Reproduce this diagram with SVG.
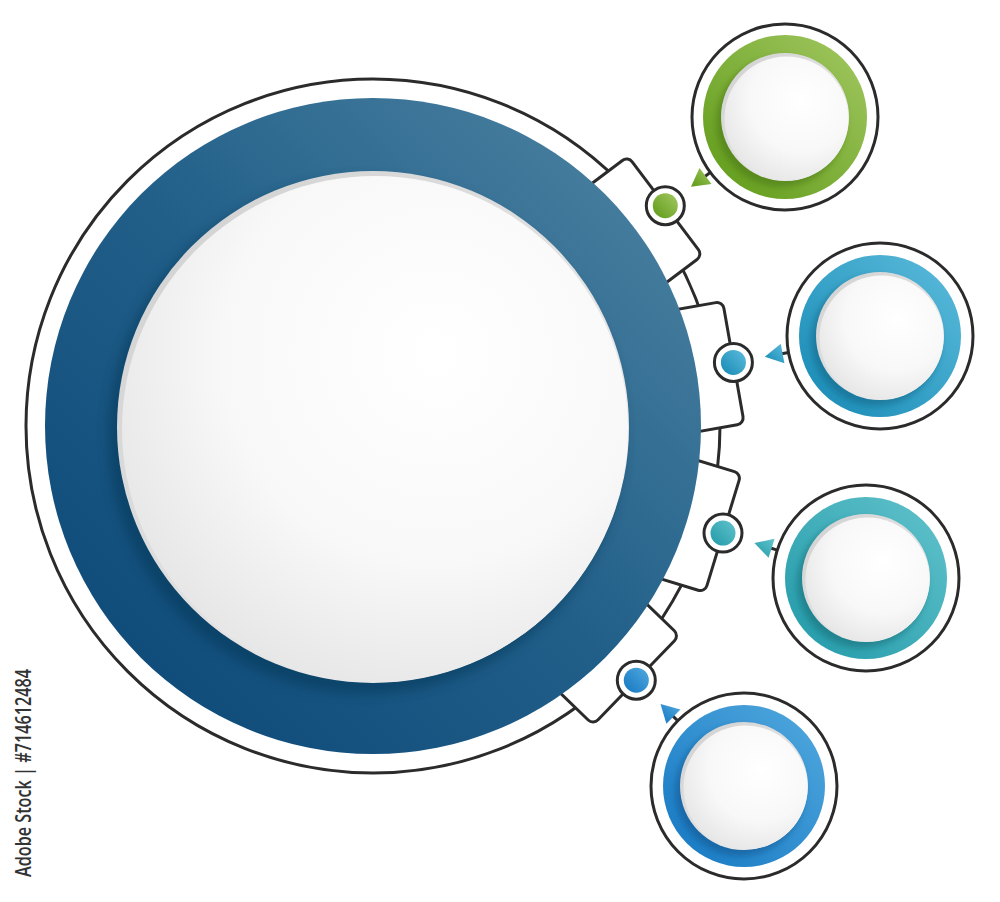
<svg xmlns="http://www.w3.org/2000/svg" width="1000" height="902" viewBox="0 0 1000 902">
<defs>
<linearGradient id="gBig" x1="0" y1="1" x2="1" y2="0"><stop offset="0" stop-color="#0a4575"/><stop offset="0.5" stop-color="#215f89"/><stop offset="1" stop-color="#5287a4"/></linearGradient>
<linearGradient id="gGreen" x1="0" y1="1" x2="1" y2="0"><stop offset="0" stop-color="#5e9a17"/><stop offset="1" stop-color="#a3c862"/></linearGradient>
<linearGradient id="gCyan" x1="0" y1="1" x2="1" y2="0"><stop offset="0" stop-color="#1689b4"/><stop offset="1" stop-color="#5cbcdc"/></linearGradient>
<linearGradient id="gTeal" x1="0" y1="1" x2="1" y2="0"><stop offset="0" stop-color="#2199a8"/><stop offset="1" stop-color="#62c3cc"/></linearGradient>
<linearGradient id="gBlue" x1="0" y1="1" x2="1" y2="0"><stop offset="0" stop-color="#1477c2"/><stop offset="1" stop-color="#52a9de"/></linearGradient>
<radialGradient id="gWhite" cx="0.62" cy="0.35" r="0.7"><stop offset="0" stop-color="#ffffff"/><stop offset="0.6" stop-color="#f8f8f8"/><stop offset="1" stop-color="#e6e6e6"/></radialGradient>
<linearGradient id="gRim" x1="0" y1="0" x2="1" y2="1"><stop offset="0" stop-color="#cfcfcf"/><stop offset="1" stop-color="#f2f2f2"/></linearGradient>
<filter id="shadow" x="-20%" y="-20%" width="140%" height="140%"><feGaussianBlur stdDeviation="6"/></filter>
<filter id="shadowS" x="-20%" y="-20%" width="140%" height="140%"><feGaussianBlur stdDeviation="3"/></filter>
</defs>
<style>
.line{fill:#ffffff;stroke:#2b2b2b;stroke-width:3}
.tab{fill:#ffffff;stroke:#2b2b2b;stroke-width:3}
.conn{stroke:#2b2b2b;stroke-width:3;fill:none}
.wm{font-family:"Open Sans","DejaVu Sans",sans-serif;font-weight:600;fill:#333333}
</style>
<rect width="1000" height="902" fill="#ffffff"/>

<g id="main">
  <circle class="line" cx="373" cy="426" r="347"/>
  <g id="tabs">
    <rect class="tab" x="668" y="364" width="71" height="124" rx="7" transform="rotate(-37 373 426)"/>
    <rect class="tab" x="668" y="364" width="71" height="124" rx="7" transform="rotate(-10 373 426)"/>
    <rect class="tab" x="668" y="364" width="71" height="124" rx="7" transform="rotate(17 373 426)"/>
    <rect class="tab" x="668" y="364" width="71" height="124" rx="7" transform="rotate(44 373 426)"/>
  </g>
  <circle cx="373" cy="426" r="328" fill="url(#gBig)"/>
  <circle cx="366" cy="436" r="258" fill="#06304f" opacity="0.45" filter="url(#shadow)"/>
  <circle cx="373" cy="427" r="256" fill="url(#gRim)"/>
  <circle cx="375" cy="429" r="253" fill="url(#gWhite)"/>
</g>

<g id="dot1"><circle class="line" cx="665.3" cy="205.7" r="19"/><circle cx="665.3" cy="205.7" r="12.5" fill="url(#gGreen)"/></g>
<g id="dot2"><circle class="line" cx="733.4" cy="362.4" r="19"/><circle cx="733.4" cy="362.4" r="12.5" fill="url(#gCyan)"/></g>
<g id="dot3"><circle class="line" cx="723" cy="533.1" r="19"/><circle cx="723" cy="533.1" r="12.5" fill="url(#gTeal)"/></g>
<g id="dot4"><circle class="line" cx="636.3" cy="680.2" r="19"/><circle cx="636.3" cy="680.2" r="12.5" fill="url(#gBlue)"/></g>

<g id="node1">
  <circle class="line" cx="785" cy="117" r="93"/>
  <circle cx="785" cy="117" r="82" fill="url(#gGreen)"/>
  <circle cx="781" cy="122" r="65" fill="#3d6a0c" opacity="0.45" filter="url(#shadowS)"/>
  <circle cx="785" cy="117" r="64" fill="url(#gRim)"/>
  <circle cx="786.5" cy="118.5" r="62" fill="url(#gWhite)"/>
</g>
<g id="node2">
  <circle class="line" cx="880" cy="336" r="93"/>
  <circle cx="880" cy="336" r="81" fill="url(#gCyan)"/>
  <circle cx="876" cy="341" r="65" fill="#0b5878" opacity="0.45" filter="url(#shadowS)"/>
  <circle cx="880" cy="336" r="64" fill="url(#gRim)"/>
  <circle cx="881.5" cy="337.5" r="62" fill="url(#gWhite)"/>
</g>
<g id="node3">
  <circle class="line" cx="866" cy="578" r="93"/>
  <circle cx="866" cy="578" r="81" fill="url(#gTeal)"/>
  <circle cx="862" cy="583" r="65" fill="#0d5f68" opacity="0.45" filter="url(#shadowS)"/>
  <circle cx="866" cy="578" r="64" fill="url(#gRim)"/>
  <circle cx="867.5" cy="579.5" r="62" fill="url(#gWhite)"/>
</g>
<g id="node4">
  <circle class="line" cx="744" cy="786" r="93"/>
  <circle cx="744" cy="786" r="81" fill="url(#gBlue)"/>
  <circle cx="740" cy="791" r="65" fill="#0a4a80" opacity="0.45" filter="url(#shadowS)"/>
  <circle cx="744" cy="786" r="64" fill="url(#gRim)"/>
  <circle cx="745.5" cy="787.5" r="62" fill="url(#gWhite)"/>
</g>

<g id="connectors">
  <line class="conn" x1="710.3" y1="172.4" x2="704.9" y2="176.5"/>
  <polygon points="691.0,186.7 699.5,167.9 711.5,183.9" fill="url(#gGreen)"/>
  <line class="conn" x1="788.5" y1="352.5" x2="781.6" y2="353.7"/>
  <polygon points="764.8,356.7 780.8,343.7 784.4,363.3" fill="url(#gCyan)"/>
  <line class="conn" x1="777.3" y1="550.1" x2="770.6" y2="548.05"/>
  <polygon points="754.4,543.0 774.6,538.8 768.6,557.8" fill="url(#gTeal)"/>
  <line class="conn" x1="677.7" y1="720.8" x2="672.7" y2="715.9"/>
  <polygon points="660.5,704.0 680.4,709.5 666.4,723.7" fill="url(#gBlue)"/>
</g>

<text class="wm" transform="translate(31,877) rotate(-90)" font-size="21" textLength="208" lengthAdjust="spacingAndGlyphs">Adobe Stock | #714612484</text>
</svg>
